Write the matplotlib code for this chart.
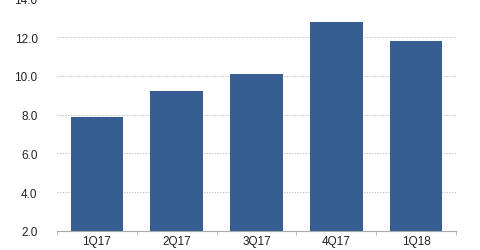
import numpy as np
import matplotlib
matplotlib.use("Agg")
import matplotlib.pyplot as plt

quarters = ["1Q17", "2Q17", "3Q17", "4Q17", "1Q18"]
values = [7.9, 9.2, 10.1, 12.8, 11.8]
yticks = [2.0, 4.0, 6.0, 8.0, 10.0, 12.0, 14.0]

plt.rcParams['font.family'] = ['Liberation Sans', 'DejaVu Sans']

fig = plt.figure(figsize=(4.8, 2.51), dpi=100)
ax = fig.add_axes([57/480, 19/251, (456-57)/480, 232.7/251])

x = np.arange(len(quarters))
ax.bar(x, values, width=0.66, color="#375e92", zorder=3)
ax.set_xlim(-0.5, len(quarters) - 0.5)
ax.set_ylim(2, 14)
ax.set_yticks(yticks)
ax.set_yticklabels([f"{t:.1f}" for t in yticks], fontsize=8.5, color="#222222")
ax.set_xticks(x)
ax.set_xticklabels(quarters, fontsize=8.5, color="#222222")
ax.set_xticks(np.arange(-0.5, len(quarters)), minor=True)
ax.tick_params(axis="x", which="major", length=0, pad=3)
ax.tick_params(axis="x", which="minor", length=3, color="#aaaaaa", direction="out")
ax.tick_params(axis="y", length=0, pad=14)
ax.grid(axis="y", color="#c4c4c4", linestyle=(0, (1.2, 1.2)), linewidth=0.8, zorder=0)
for s in ["top", "right", "left"]:
    ax.spines[s].set_visible(False)
ax.spines["bottom"].set_color("#aaaaaa")
ax.spines["bottom"].set_linewidth(0.8)

fig.savefig("out.png", dpi=100)
